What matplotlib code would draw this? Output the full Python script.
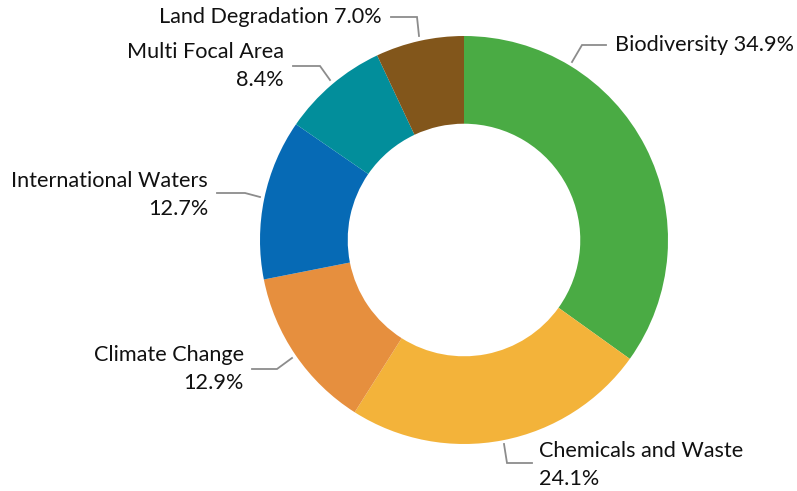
import matplotlib
matplotlib.use("Agg")
import matplotlib.pyplot as plt

categories = ["Biodiversity", "Chemicals and Waste", "Climate Change",
              "International Waters", "Multi Focal Area", "Land Degradation"]
shares = [34.9, 24.1, 12.9, 12.7, 8.4, 7.0]
colors = ["#4aab44", "#f3b33a", "#e68f3e", "#066ab5", "#028e9b", "#82561b"]

# layout (pixel coordinates, y measured from top): text anchor, alignment, line points
W, H = 797, 491
layout = {
    "Biodiversity": dict(text=(615, 45), ha="left", two_lines=False,
                          line=[(572, 62), (582, 45), (606, 45)]),
    "Chemicals and Waste": dict(text=(539, 451), ha="left", two_lines=True,
                                 line=[(504, 444), (507, 463), (532, 463)]),
    "Climate Change": dict(text=(244, 355), ha="right", two_lines=True,
                            line=[(292, 358), (277, 369), (252, 369)]),
    "International Waters": dict(text=(208, 181), ha="right", two_lines=True,
                                  line=[(260, 197), (245, 193), (217, 193)]),
    "Multi Focal Area": dict(text=(284, 52), ha="right", two_lines=True,
                              line=[(330, 80), (320, 66), (293, 66)]),
    "Land Degradation": dict(text=(382, 17), ha="right", two_lines=False,
                              line=[(419, 36), (417, 17), (391, 17)]),
}

plt.rcParams["font.family"] = ["Lato", "DejaVu Sans"]
fig = plt.figure(figsize=(W / 100, H / 100), dpi=100)
ax = fig.add_axes([0, 0, 1, 1])

cx, cy, R = 464, 240, 204
ax.pie(shares, colors=colors, startangle=90, counterclock=False,
       center=(cx, H - cy), radius=R, frame=True,
       wedgeprops=dict(width=R * 0.43, linewidth=0))
ax.set_xlim(0, W)
ax.set_ylim(0, H)
ax.set_aspect("equal")
ax.axis("off")

fs = 15.6
line_gap = 28
for name, val in zip(categories, shares):
    lay = layout[name]
    xs = [p[0] for p in lay["line"]]
    ys = [H - p[1] for p in lay["line"]]
    ax.plot(xs, ys, color="#8c8c8c", lw=1.3, solid_joinstyle="miter")
    tx, ty = lay["text"]
    pct = f"{val:.1f}%"
    if lay["two_lines"]:
        ax.text(tx, H - ty, name, ha=lay["ha"], va="center", fontsize=fs, color="#111111")
        ax.text(tx, H - ty - line_gap, pct, ha=lay["ha"], va="center", fontsize=fs, color="#111111")
    else:
        ax.text(tx, H - ty, f"{name} {pct}", ha=lay["ha"], va="center", fontsize=fs, color="#111111")

fig.savefig("out.png", dpi=100)
